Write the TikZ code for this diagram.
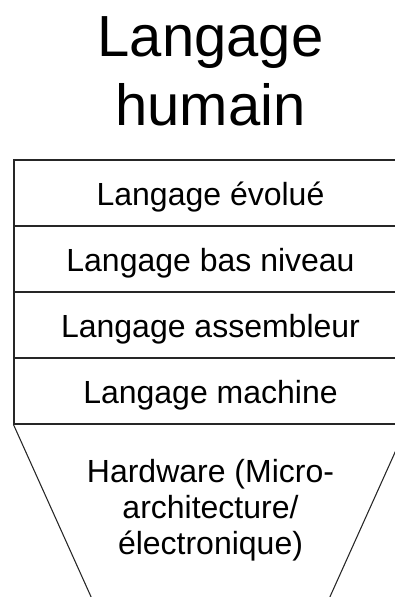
\documentclass[tikz,border=0pt]{standalone}
\usepackage{fontspec}
\setmainfont{Liberation Sans}
\usepackage{tikz}
\usetikzlibrary{positioning}

\begin{document}
\begin{tikzpicture}[
	x=0.75pt, y=-0.75pt,
	title/.style={align=center, anchor=base, inner sep=0pt,
		font=\fontsize{43.5}{51.75}\selectfont},
	layer/.style={draw=black!85, line width=0.8pt, rectangle,
		minimum width=294.75pt, minimum height=48.9pt, inner sep=0pt,
		text height=18.75pt, text depth=0pt,
		font=\fontsize{24}{27}\selectfont},
	hwtext/.style={align=center, anchor=base, inner sep=0pt,
		font=\fontsize{24}{27}\selectfont},
	edge/.style={draw=black!85, line width=0.8pt}]
	\useasboundingbox (0,0) rectangle (395,597);
	\clip (0,0) rectangle (395,597);
	%% Title (base = last line)
	\node [title] at (210.5,125) (humain) {Langage\\humain};
	%% Layers
	\node [layer] at (210.5,192.6) (evolue) {Langage évolué};
	\node [layer, below=0pt of evolue] (basniv) {Langage bas niveau};
	\node [layer, below=0pt of basniv] (assembleur) {Langage assembleur};
	\node [layer, below=0pt of assembleur] (machine) {Langage machine};
	%% Hardware
	\node [hwtext] at (210.5,554) (hardware) {Hardware (Micro-\\architecture/\\électronique)};
	\coordinate (hwL) at (110.5,640);
	\coordinate (hwR) at (310.5,640);
	\path [edge] (machine.south west) -- (hwL);
	\path [edge] (machine.south east) -- (hwR);
\end{tikzpicture}
\end{document}
